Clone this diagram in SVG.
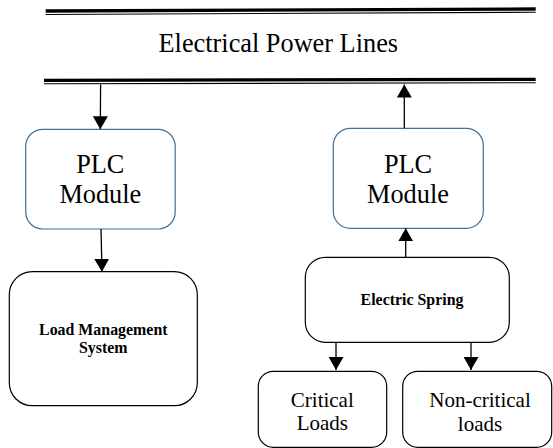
<svg xmlns="http://www.w3.org/2000/svg" width="553" height="448" viewBox="0 0 553 448">
<defs>
<style>
.bus-thick{stroke:#000;stroke-width:3.3;fill:none}
.bus-thin{stroke:#000;stroke-width:1.1;fill:none}
.plc{fill:#fff;stroke:#41719c;stroke-width:1.2}
.box{fill:#fff;stroke:#000;stroke-width:1.2}
.conn{stroke:#000;stroke-width:1.3;fill:none;marker-end:url(#arr)}
</style>
<marker id="arr" viewBox="0 0 13 15" refX="13" refY="7.5" markerWidth="13" markerHeight="15" markerUnits="userSpaceOnUse" orient="auto">
<path d="M0,0 L13,7.5 L0,15 z" fill="#000"/>
</marker>
</defs>
<g id="power-lines">
<line class="bus-thick" x1="45.7" y1="11" x2="535.7" y2="9"/>
<line class="bus-thin" x1="45.7" y1="14.5" x2="535.7" y2="12.3"/>
<line class="bus-thick" x1="44" y1="80.3" x2="535.7" y2="79.4"/>
<line class="bus-thin" x1="44" y1="83.8" x2="535.7" y2="82.7"/>
<text x="278.3" y="51.7" font-family="'Liberation Serif', serif" font-size="26.3" text-anchor="middle">Electrical Power Lines</text>
</g>
<g id="plc-left">
<rect class="plc" x="25.7" y="129.3" width="149.5" height="99.7" rx="17" ry="17"/>
<text x="100.3" y="173.3" font-family="'Liberation Serif', serif" font-size="26.3" text-anchor="middle">PLC</text>
<text x="100.3" y="203.3" font-family="'Liberation Serif', serif" font-size="26.3" text-anchor="middle">Module</text>
</g>
<g id="plc-right">
<rect class="plc" x="333.3" y="128.3" width="150" height="100" rx="17" ry="17"/>
<text x="408" y="173" font-family="'Liberation Serif', serif" font-size="26.3" text-anchor="middle">PLC</text>
<text x="408" y="203" font-family="'Liberation Serif', serif" font-size="26.3" text-anchor="middle">Module</text>
</g>
<g id="load-management">
<rect class="box" x="9.3" y="271.7" width="188" height="134" rx="23" ry="23"/>
<text x="103.3" y="335" font-family="'Liberation Serif', serif" font-size="15.9" font-weight="bold" text-anchor="middle">Load Management</text>
<text x="103.3" y="353.3" font-family="'Liberation Serif', serif" font-size="15.9" font-weight="bold" text-anchor="middle">System</text>
</g>
<g id="electric-spring">
<rect class="box" x="305.3" y="257.3" width="204" height="85" rx="20" ry="20"/>
<text x="412" y="305" font-family="'Liberation Serif', serif" font-size="15.9" font-weight="bold" text-anchor="middle">Electric Spring</text>
</g>
<g id="critical-loads">
<rect class="box" x="258.3" y="371.3" width="128.4" height="76" rx="15" ry="15"/>
<text x="322.3" y="406.7" font-family="'Liberation Serif', serif" font-size="21" text-anchor="middle">Critical</text>
<text x="322.3" y="430" font-family="'Liberation Serif', serif" font-size="21" text-anchor="middle">Loads</text>
</g>
<g id="non-critical-loads">
<rect class="box" x="402.7" y="371.3" width="149" height="76" rx="15" ry="15"/>
<text x="480" y="406.7" font-family="'Liberation Serif', serif" font-size="21" text-anchor="middle">Non-critical</text>
<text x="480" y="430.5" font-family="'Liberation Serif', serif" font-size="21" text-anchor="middle">loads</text>
</g>
<g id="connectors">
<line class="conn" x1="100.6" y1="84.5" x2="100.3" y2="129.3"/>
<line class="conn" x1="101" y1="229" x2="102" y2="271.7"/>
<line class="conn" x1="405.7" y1="257.3" x2="405.7" y2="228.3"/>
<line class="conn" x1="404.3" y1="128.3" x2="404.3" y2="84.5"/>
<line class="conn" x1="336" y1="342.3" x2="336" y2="370"/>
<line class="conn" x1="471" y1="342.3" x2="471" y2="370"/>
</g>
</svg>
